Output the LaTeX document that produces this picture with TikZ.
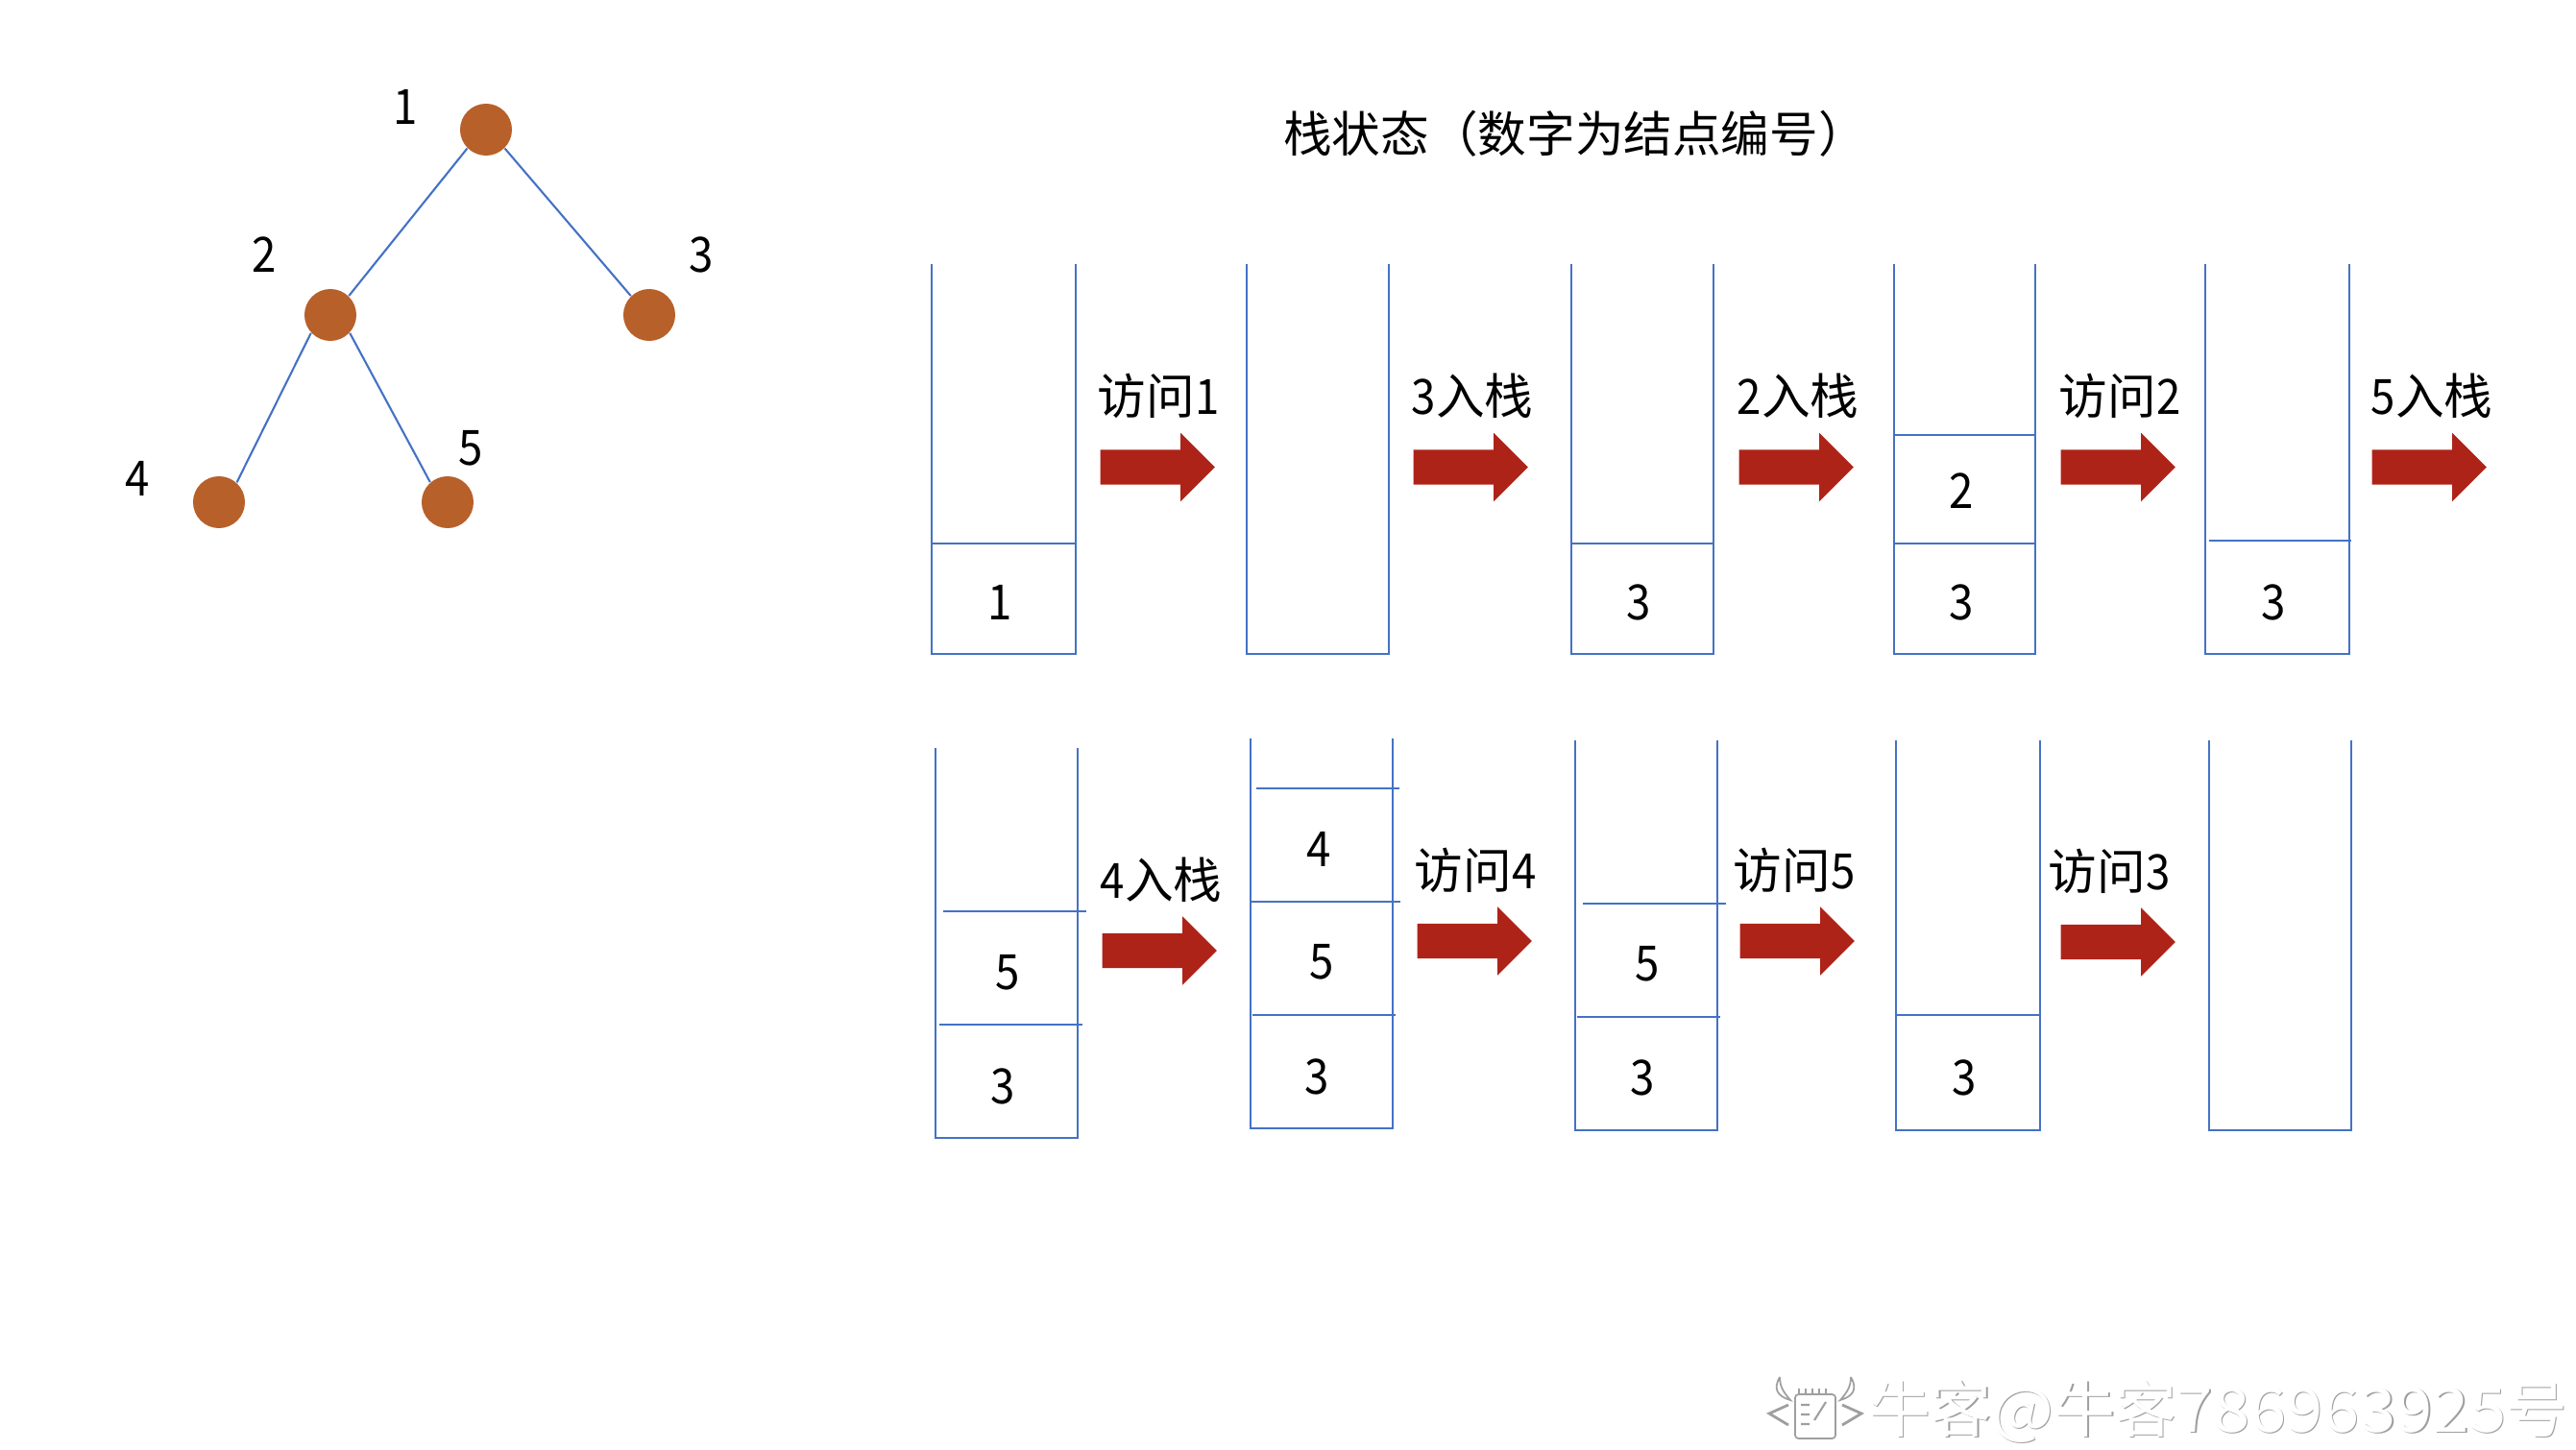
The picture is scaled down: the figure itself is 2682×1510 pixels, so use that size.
\documentclass[tikz,border=0pt]{standalone}
\usepackage{fontspec}
\usetikzlibrary{shapes.arrows}
\setmainfont{Noto Sans CJK SC}
\newfontfamily\digfont[FakeStretch=0.9]{Noto Sans CJK SC}
\newfontfamily\wmfont[FakeStretch=1.08]{Noto Sans CJK SC}
\newcommand{\dg}[1]{{\digfont #1}}
\definecolor{blueline}{HTML}{4472C4}
\definecolor{brownnode}{HTML}{B8602A}
\definecolor{redarrow}{HTML}{AE2318}
\tikzset{
  x=0.01cm,y=-0.01cm,
  vertexdot/.style={circle,fill=brownnode,draw=none,minimum size=0.54cm,inner sep=0pt},
  treeedge/.style={draw=blueline,line width=0.6pt},
  stackline/.style={draw=blueline,line width=0.65pt},
  lbl/.style={inner sep=0pt,font=\fontsize{14.4}{16}\selectfont,text=black},
  dlbl/.style={lbl,xshift=0.015cm},
  bigarrow/.style={single arrow,anchor=west,fill=redarrow,draw=none,inner sep=0pt,
    minimum height=1.19cm,single arrow head extend=0.175cm,single arrow tip angle=90},
  wmtext/.style={inner sep=0pt,font=\fontsize{18.1}{20}\selectfont,anchor=east},
}
\newcommand{\shaft}{\rule{0pt}{0.35cm}}
\newcommand{\stackbox}[4]{\draw[stackline] (#1,#3) -- (#1,#4) -- (#2,#4) -- (#2,#3);}
\newcommand{\stackdiv}[3]{\draw[stackline] (#1,#3) -- (#2,#3);}
\newcommand{\wmicon}[1]{%
  \begin{scope}[shift={(#1)}]
    \draw[gray!75,line width=0.5pt,fill=white,rounded corners=1pt] (1869,1452) rectangle (1911,1498);
    \draw[gray!75,line width=0.5pt] (1873,1452) -- (1873,1446) (1880,1452) -- (1880,1446) (1887,1452) -- (1887,1446) (1894,1452) -- (1894,1446) (1901,1452) -- (1901,1446);
    \draw[gray!75,line width=0.8pt] (1862,1463) -- (1842,1472) -- (1862,1484) (1918,1463) -- (1938,1472) -- (1918,1484);
    \draw[gray!75,line width=0.5pt,fill=white] (1853,1434) .. controls (1846,1446) and (1850,1454) .. (1864,1458) .. controls (1857,1450) and (1853,1444) .. (1853,1434);
    \draw[gray!75,line width=0.5pt,fill=white] (1927,1434) .. controls (1934,1446) and (1930,1454) .. (1916,1458) .. controls (1923,1450) and (1927,1444) .. (1927,1434);
    \draw[gray!75,line width=0.6pt] (1875,1463) -- (1884,1463) (1875,1473) -- (1884,1473) (1875,1483) -- (1884,1483) (1889,1479) -- (1901,1460);
  \end{scope}}
\begin{document}
\begin{tikzpicture}
\useasboundingbox (0,0) rectangle (2682,1510);
% tree
\node[vertexdot] (n1) at (506,135) {};
\node[vertexdot] (n2) at (344,328) {};
\node[vertexdot] (n3) at (676,328) {};
\node[vertexdot] (n4) at (228,523) {};
\node[vertexdot] (n5) at (466,523) {};
\draw[treeedge] (n1.225) -- (n2.46);
\draw[treeedge] (n1.315) -- (n3.134);
\draw[treeedge] (n2.223) -- (n4.48);
\draw[treeedge] (n2.317) -- (n5.131);
\node[dlbl] (t1) at (421,111) {\dg{1}};
\node[dlbl] (t2) at (274,265) {\dg{2}};
\node[dlbl] (t3) at (729,265) {\dg{3}};
\node[dlbl] (t4) at (142,498) {\dg{4}};
\node[dlbl] (t5) at (489,467) {\dg{5}};
% title
\node[lbl] (title) at (1640,139) {栈状态（数字为结点编号）};
% stacks row 1
\stackbox{970}{1120}{275}{681}\stackdiv{970}{1120}{566}
\stackbox{1298}{1446}{275}{681}
\stackbox{1636}{1784}{275}{681}\stackdiv{1636}{1784}{566}
\stackbox{1972}{2119}{275}{681}\stackdiv{1972}{2119}{453}\stackdiv{1972}{2119}{566}
\stackbox{2296}{2446}{275}{681}\stackdiv{2300}{2448}{563}
% stacks row 2
\stackbox{974}{1122}{779}{1185}\stackdiv{982}{1131}{949}\stackdiv{978}{1127}{1067}
\stackbox{1302}{1450}{769}{1175}\stackdiv{1308}{1457}{821}\stackdiv{1302}{1458}{939}\stackdiv{1304}{1453}{1057}
\stackbox{1640}{1788}{771}{1177}\stackdiv{1648}{1797}{941}\stackdiv{1642}{1791}{1059}
\stackbox{1974}{2124}{771}{1177}\stackdiv{1974}{2124}{1057}
\stackbox{2300}{2448}{771}{1177}
% stack digits
\node[dlbl] (a1) at (1040,627) {\dg{1}};
\node[dlbl] (a2) at (1705,627) {\dg{3}};
\node[dlbl] (a3) at (2041,511) {\dg{2}};
\node[dlbl] (a4) at (2041,627) {\dg{3}};
\node[dlbl] (a5) at (2366,627) {\dg{3}};
\node[dlbl] (b1) at (1048,1013) {\dg{5}};
\node[dlbl] (b2) at (1043,1131) {\dg{3}};
\node[dlbl] (b3) at (1372,884) {\dg{4}};
\node[dlbl] (b4) at (1375,1002) {\dg{5}};
\node[dlbl] (b5) at (1370,1121) {\dg{3}};
\node[dlbl] (b6) at (1714,1004) {\dg{5}};
\node[dlbl] (b7) at (1709,1122) {\dg{3}};
\node[dlbl] (b8) at (2044,1122) {\dg{3}};
% arrows row 1
\node[bigarrow] (r1) at (1145,486.5) {\shaft};
\node[bigarrow] (r2) at (1471,486.5) {\shaft};
\node[bigarrow] (r3) at (1810,486.5) {\shaft};
\node[bigarrow] (r4) at (2145,486.5) {\shaft};
\node[bigarrow] (r5) at (2469,486.5) {\shaft};
% arrows row 2
\node[bigarrow] (s1) at (1147,990) {\shaft};
\node[bigarrow] (s2) at (1475,980) {\shaft};
\node[bigarrow] (s3) at (1811,980) {\shaft};
\node[bigarrow] (s4) at (2145,981) {\shaft};
% labels
\node[lbl] (l1) at (1206,412) {访问\dg{1}};
\node[lbl] (l2) at (1533,412) {\dg{3}入栈};
\node[lbl] (l3) at (1872,412) {\dg{2}入栈};
\node[lbl] (l4) at (2207,412) {访问\dg{2}};
\node[lbl] (l5) at (2532,412) {\dg{5}入栈};
\node[lbl] (m1) at (1209,916) {\dg{4}入栈};
\node[lbl] (m2) at (1536,906) {访问\dg{4}};
\node[lbl] (m3) at (1868,906) {访问\dg{5}};
\node[lbl] (m4) at (2196,907) {访问\dg{3}};
% watermark
\wmicon{0,0}
\node[wmtext,text=gray!75] (wms) at (2675,1471) {牛客{\wmfont @}牛客{\wmfont 786963925}号};
\node[wmtext,text=white] (wm) at (2673.6,1469.6) {牛客{\wmfont @}牛客{\wmfont 786963925}号};
\end{tikzpicture}
\end{document}
